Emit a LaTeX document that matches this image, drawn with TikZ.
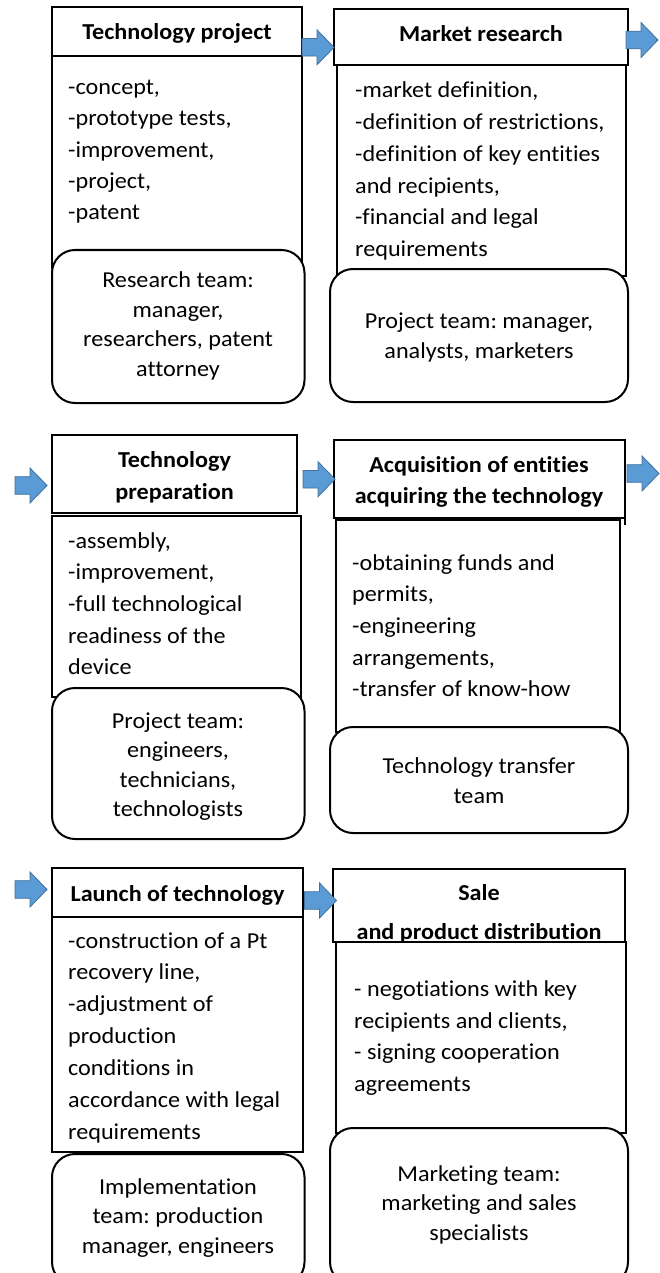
\documentclass[tikz,border=0pt]{standalone}
\usepackage{fontspec}
\setmainfont{Carlito}[FakeStretch=1.06, Ligatures={NoCommon}]
\frenchspacing
\definecolor{arrowfill}{HTML}{5B9BD5}
\definecolor{arrowline}{HTML}{41719C}
% text blocks: first argument is the line spacing, second the lines
\newcommand\leftlines[2]{\parbox[t]{275pt}{\raggedright\fontsize{22.8}{#1}\selectfont #2}}
\newcommand\midlines[2]{\parbox[t]{300pt}{\centering\fontsize{22.8}{#1}\selectfont #2}}
\tikzset{
  frame/.style={draw=black, line width=2pt, fill=white},
  roundframe/.style={frame, rounded corners=23pt},
  txtl/.style={inner sep=0pt, anchor=base west},
  txtc/.style={inner sep=0pt, anchor=base},
  blockarrow/.pic={
    \path[draw=arrowline, fill=arrowfill, line width=0.8pt, line join=miter]
      (0,-8.8) -- (15,-8.8) -- (15,-17.5) -- (32,0) -- (15,17.5) -- (15,8.8) -- (0,8.8) -- cycle;
  }
}
\begin{document}
\begin{tikzpicture}[x=1pt,y=-1pt]
\useasboundingbox (0,0) rectangle (660,1273);
\clip (0,0) rectangle (660,1273);
\fill[white] (0,0) rectangle (660,1273);

% ---------- row 1, left column ----------
\draw[frame] (52,7.5) rectangle (302,56);
\node[txtc] (t1) at (177,40) {\midlines{32}{\bfseries Technology project}};
\draw[frame] (52,56) rectangle (302,268);
\node[txtl] (b1) at (68,94.3) {\leftlines{31.4}{-concept,\\-prototype tests,\\-improvement,\\-project,\\-patent}};
\draw[roundframe] (52,250) rectangle (304.5,403);
\node[txtc] (r1) at (178,287.3) {\midlines{29.7}{Research team:\\manager,\\researchers, patent\\attorney}};

% ---------- row 1, right column ----------
\draw[frame] (334,9) rectangle (628,65.5);
\node[txtc] (t2) at (481,41.5) {\midlines{32}{\bfseries Market research}};
\draw[frame] (337,65.5) rectangle (626,276);
\node[txtl] (b2) at (355,98) {\leftlines{31.7}{-market definition,\\-definition of restrictions,\\-definition of key entities\\and recipients,\\-financial and legal\\requirements}};
\draw[roundframe] (330,269) rectangle (628,402);
\node[txtc] (r2) at (479,328) {\midlines{30}{Project team: manager,\\analysts, marketers}};

% ---------- row 2, left column ----------
\draw[frame] (52,435) rectangle (296.5,513);
\node[txtc] (t3) at (174.5,467) {\midlines{32}{\bfseries Technology\\preparation}};
\draw[frame] (52,516) rectangle (300.5,697);
\node[txtl] (b3) at (68,548) {\leftlines{31.7}{-assembly,\\-improvement,\\-full technological\\readiness of the\\device}};
\draw[roundframe] (52,688) rectangle (304.5,839);
\node[txtc] (r3) at (178,728) {\midlines{29.5}{Project team:\\engineers,\\technicians,\\technologists}};

% ---------- row 2, right column ----------
\draw[frame] (333.5,439.5) rectangle (624.5,517.5);
\draw[black, line width=2pt] (624.5,517.5) -- (624.5,524.5);
\node[txtc] (t4) at (479,472) {\midlines{31}{\bfseries Acquisition of entities\\acquiring the technology}};
\draw[frame] (335.5,519.5) rectangle (620,732);
\node[txtl] (b4) at (352,570) {\leftlines{31.7}{-obtaining funds and\\permits,\\-engineering\\arrangements,\\-transfer of know-how}};
\draw[roundframe] (330,727) rectangle (628,833);
\node[txtc] (r4) at (479,773) {\midlines{30}{Technology transfer\\team}};

% ---------- row 3, left column ----------
\draw[frame] (52,868) rectangle (303,917);
\node[txtc] (t5) at (177.5,901) {\midlines{32}{\bfseries Launch of technology}};
\draw[frame] (52,917) rectangle (303,1152);
\node[txtl] (b5) at (68,948) {\leftlines{31.9}{-construction of a Pt\\recovery line,\\-adjustment of\\production\\conditions in\\accordance with legal\\requirements}};
\draw[roundframe] (52,1154) rectangle (304.5,1285);
\node[txtc] (r5) at (178,1194) {\midlines{29.5}{Implementation\\team: production\\manager, engineers}};

% ---------- row 3, right column ----------
\draw[frame] (333,869) rectangle (625,942);
\node[txtc] (t6) at (479,900.7) {\midlines{38.3}{\bfseries Sale\\and product distribution}};
% the body panel overlaps the lower edge of the heading text
\draw[frame] (336,942) rectangle (626,1133);
\node[txtl] (b6) at (354,996.5) {\leftlines{31.7}{- negotiations with key\\recipients and clients,\\- signing cooperation\\agreements}};
\draw[roundframe] (330,1128) rectangle (628,1285);
\node[txtc] (r6) at (479,1181) {\midlines{29.5}{Marketing team:\\marketing and sales\\specialists}};

% ---------- flow arrows ----------
\pic at (302,47.3) {blockarrow};
\pic at (626,40) {blockarrow};
\pic at (15,485.5) {blockarrow};
\pic at (303,479.2) {blockarrow};
\pic at (627,473.5) {blockarrow};
\pic at (15,889.5) {blockarrow};
\pic at (304.5,900.5) {blockarrow};
\end{tikzpicture}
\end{document}
